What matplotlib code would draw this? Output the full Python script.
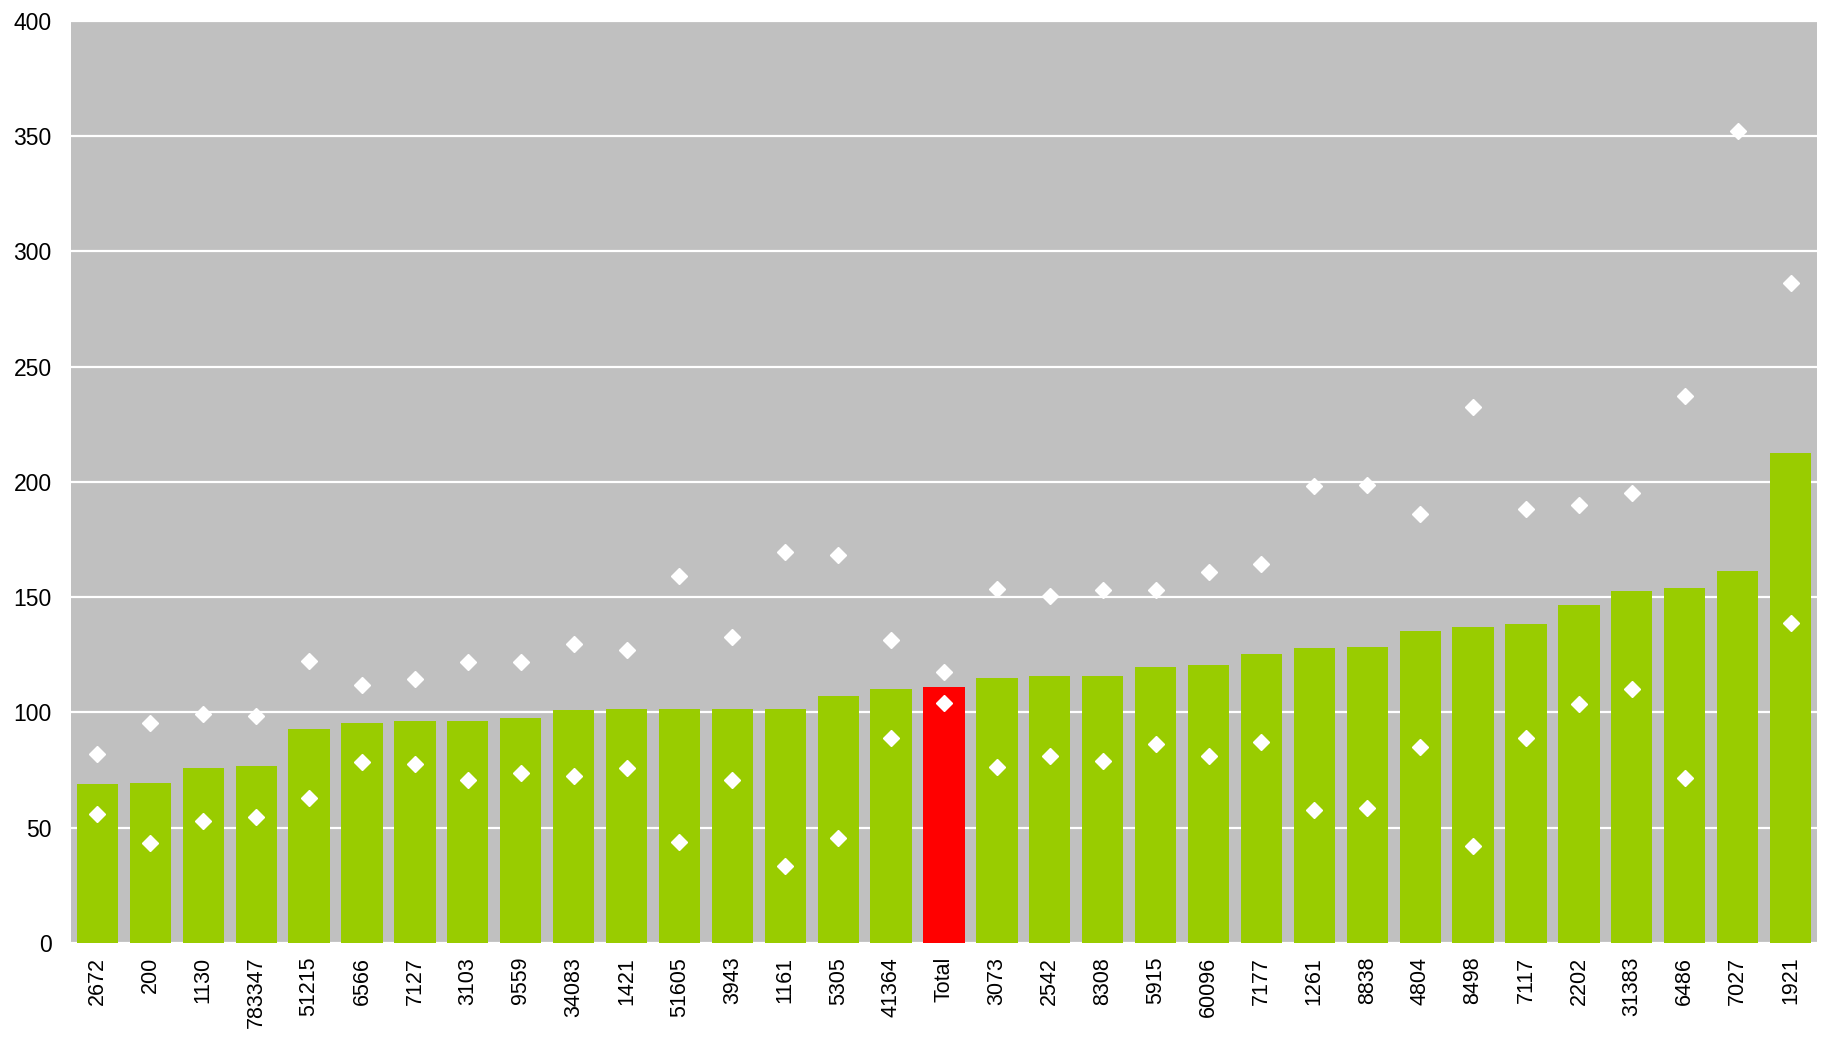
import numpy as np
import matplotlib
matplotlib.use('Agg')
import matplotlib.pyplot as plt

plt.rcParams['font.family'] = ['Liberation Sans', 'DejaVu Sans']

categories = ['2672', '200', '1130', '783347', '51215', '6566', '7127', '3103', '9559', '34083',
              '1421', '51605', '3943', '1161', '5305', '41364', 'Total', '3073', '2542', '8308',
              '5915', '60096', '7177', '1261', '8838', '4804', '8498', '7117', '2202', '31383',
              '6486', '7027', '1921']

bar_values = [68.8, 69.6, 76.1, 76.6, 93.0, 95.6, 96.5, 96.5, 97.8, 101.2,
              101.6, 101.6, 101.6, 101.6, 107.3, 110.2, 111.1, 115.0, 115.9, 115.9,
              119.7, 120.6, 125.5, 128.0, 128.6, 135.4, 137.0, 138.2, 146.6, 152.6,
              153.9, 161.3, 212.6]

upper_values = [81.9, 95.5, 99.5, 98.3, 122.4, 112.0, 114.6, 122.0, 121.9, 129.7,
                127.1, 159.4, 132.7, 169.7, 168.2, 131.4, 117.6, 153.7, 150.7, 153.0,
                153.0, 161.0, 164.5, 198.2, 198.7, 186.2, 232.5, 188.2, 190.2, 195.2,
                237.1, 352.2, 286.3]

lower_values = [55.8, 43.2, 52.7, 54.5, 63.1, 78.7, 77.8, 70.6, 73.7, 72.5,
                75.8, 43.7, 70.5, 33.4, 45.5, 89.0, 104.2, 76.2, 81.0, 78.8,
                86.3, 81.0, 87.0, 57.7, 58.4, 85.0, 41.9, 88.9, 103.8, 110.0,
                71.4, np.nan, 139.0]

y_ticks = [0, 50, 100, 150, 200, 250, 300, 350, 400]


def main():
    fig = plt.figure(figsize=(18.21, 10.40), dpi=100)
    ax = fig.add_axes([0.039, 0.0933, 0.9588, 0.8865])
    ax.set_facecolor('#C0C0C0')

    x = np.arange(len(categories))
    colours = ['#FF0000' if c == 'Total' else '#99CC00' for c in categories]

    ax.bar(x, bar_values, width=0.78, color=colours, zorder=2)
    # white diamonds, upper and lower
    ax.plot(x, upper_values, linestyle='none', marker='D', ms=8,
            mfc='white', mec='white', zorder=3)
    ax.plot(x, lower_values, linestyle='none', marker='D', ms=8,
            mfc='white', mec='white', zorder=3)

    ax.set_xlim(-0.5, len(categories) - 0.5)
    ax.set_ylim(0, 400)
    ax.set_yticks(y_ticks)
    ax.set_xticks(x)
    ax.set_xticklabels(categories, rotation=90, fontsize=15.5)
    ax.tick_params(axis='y', labelsize=16.5, length=0, pad=14)
    ax.tick_params(axis='x', length=0, pad=10)
    ax.yaxis.grid(True, color='white', linewidth=1.6, zorder=1)
    ax.set_axisbelow(True)
    for s in ax.spines.values():
        s.set_visible(False)

    fig.savefig('out.png', dpi=100)


if __name__ == '__main__':
    main()
